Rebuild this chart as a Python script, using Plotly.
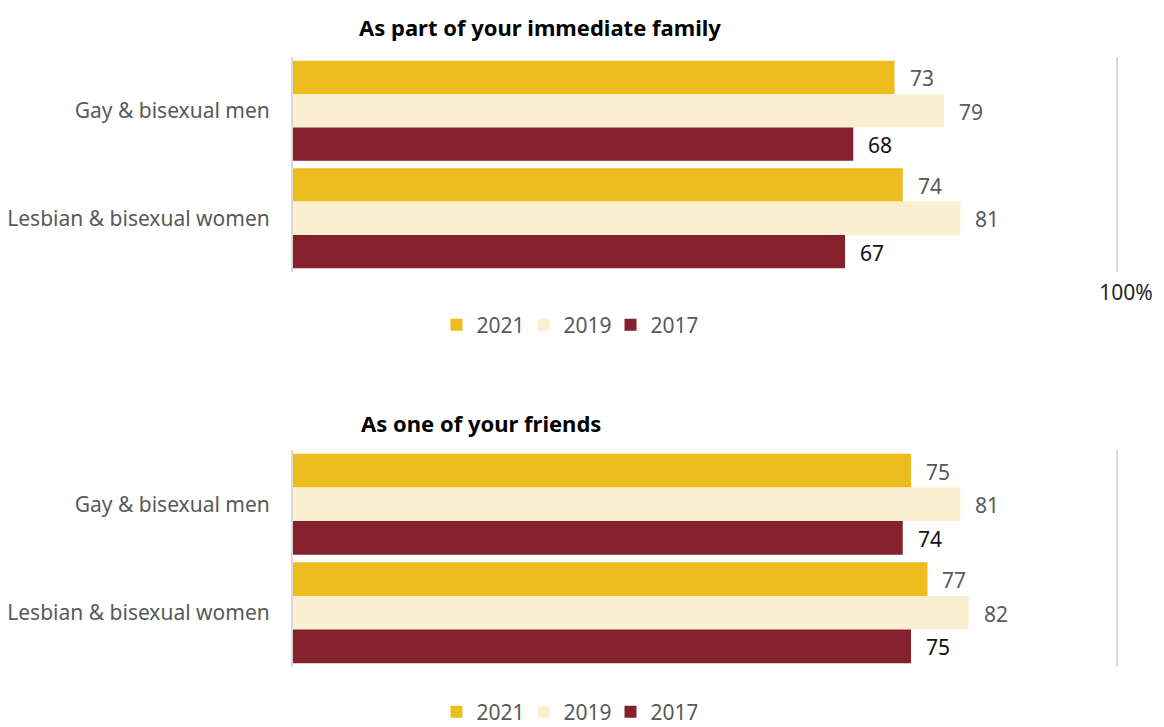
import plotly.graph_objects as go

# Survey groups and response years
groups = ["Gay & bisexual men", "Lesbian & bisexual women"]
years = ["2021", "2019", "2017"]

# Share (%) comfortable with an LGBT person in each role
family_2021 = [73, 74]
family_2019 = [79, 81]
family_2017 = [68, 67]

friends_2021 = [75, 77]
friends_2019 = [81, 82]
friends_2017 = [74, 75]

panel_titles = ["As part of your immediate family", "As one of your friends"]

colors = {"2021": "#EDBC1F", "2019": "#FBEFD2", "2017": "#85202D"}
label_colors = {"2021": "#595959", "2019": "#595959", "2017": "#111111"}

FONT = "Noto Sans"
W, H = 1164, 727

panels = [
    {"values": [family_2021, family_2019, family_2017], "xaxis": "x", "yaxis": "y",
     "legend": "legend", "title": panel_titles[0]},
    {"values": [friends_2021, friends_2019, friends_2017], "xaxis": "x2", "yaxis": "y2",
     "legend": "legend2", "title": panel_titles[1]},
]

fig = go.Figure()
for p in panels:
    for year, vals in zip(years, p["values"]):
        fig.add_trace(go.Bar(
            x=vals, y=groups, orientation="h", name=year,
            marker=dict(color=colors[year], line=dict(width=0)),
            xaxis=p["xaxis"], yaxis=p["yaxis"], legend=p["legend"],
            hoverinfo="skip",
        ))

# Value labels placed just past each bar end
annotations = []
for p in panels:
    xref = p["xaxis"]
    yref = p["yaxis"]
    for k, (year, vals) in enumerate(zip(years, p["values"])):
        for g, v in zip(groups, vals):
            annotations.append(dict(
                x=v, y=g, xref=xref, yref=yref, text=str(v), showarrow=False,
                xanchor="left", yanchor="middle", xshift=13, yshift=(k - 1) * -33.5 - 1,
                font=dict(family=FONT, size=21, color=label_colors[year]),
            ))

# Panel titles
annotations.append(dict(x=540 / W, y=1 - 27 / H, xref="paper", yref="paper",
                        text="<b>" + panel_titles[0] + "</b>", showarrow=False,
                        xanchor="center", yanchor="middle",
                        font=dict(family=FONT, size=22, color="#000000")))
annotations.append(dict(x=481 / W, y=1 - 423 / H, xref="paper", yref="paper",
                        text="<b>" + panel_titles[1] + "</b>", showarrow=False,
                        xanchor="center", yanchor="middle",
                        font=dict(family=FONT, size=22, color="#000000")))

# 0 sits at x=293 px and 100 at x=1117 px; the range runs slightly past 100
# so the 100% gridline is drawn inside the plot area
X_MAX = 101
x_dom = [293 / W, (293 + 8.24 * X_MAX) / W]
top_dom = [1 - 272 / H, 1 - 57 / H]
bot_dom = [1 - 667 / H, 1 - 450 / H]

xaxis_common = dict(
    range=[0, X_MAX], tickvals=[100], showgrid=True, gridcolor="#D9D9D9", gridwidth=1.5,
    zeroline=False, showline=False, ticks="", fixedrange=True, automargin=False,
)
yaxis_common = dict(
    autorange="reversed", showline=True, linecolor="#D9D9D9", linewidth=2,
    ticks="", showgrid=False, ticklabelstandoff=17, automargin=False,
    tickfont=dict(family=FONT, size=21, color="#595959"),
)

legend_common = dict(
    orientation="h", xanchor="center", yanchor="middle",
    font=dict(family=FONT, size=21, color="#595959"),
    itemwidth=30, entrywidth=42, entrywidthmode="pixels",
    bgcolor="rgba(0,0,0,0)", borderwidth=0,
)

fig.update_layout(
    width=W, height=H,
    margin=dict(l=0, r=0, t=0, b=0, autoexpand=False),
    paper_bgcolor="white", plot_bgcolor="white",
    barmode="group", bargap=0.07, bargroupgap=0,
    xaxis=dict(domain=x_dom, anchor="y", ticktext=["100%"], ticklabelstandoff=6,
               ticklabelshift=9,
               tickfont=dict(family=FONT, size=21, color="#262626"), **xaxis_common),
    yaxis=dict(domain=top_dom, anchor="x", **yaxis_common),
    xaxis2=dict(domain=x_dom, anchor="y2", ticktext=[""], **xaxis_common),
    yaxis2=dict(domain=bot_dom, anchor="x2", **yaxis_common),
    legend=dict(x=567 / W, y=1 - 325 / H, **legend_common),
    legend2=dict(x=567 / W, y=1 - 712 / H, **legend_common),
    annotations=annotations,
    showlegend=True,
)

fig.write_html("out.html")
